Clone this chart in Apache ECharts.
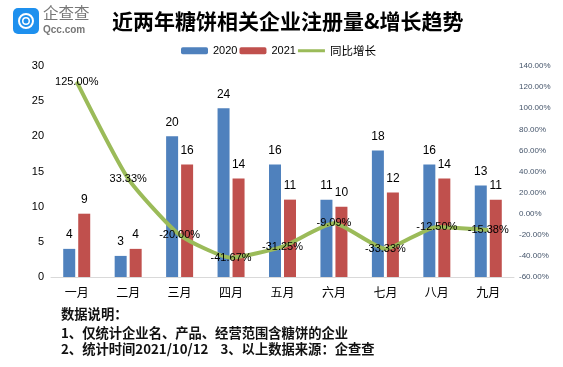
<!DOCTYPE html>
<html>
<head>
<meta charset="utf-8">
<style>
  html, body { margin: 0; padding: 0; background: #fff; }
  #chart { width: 563px; height: 367px; }
</style>
<script src="https://cdn.jsdelivr.net/npm/echarts@6/dist/echarts.min.js"></script>
</head>
<body>
<div id="chart"></div>
<script>
const months = ['一月', '二月', '三月', '四月', '五月', '六月', '七月', '八月', '九月']
const values2020 = [4, 3, 20, 24, 16, 11, 18, 16, 13]
const values2021 = [9, 4, 16, 14, 11, 10, 12, 14, 11]
const growth = [125, 33.33, -20, -41.67, -31.25, -9.09, -33.33, -12.5, -15.38]

const cjk = '"Noto Sans CJK SC", sans-serif'
const chart = echarts.init(document.getElementById('chart'))

function noteText(text, y) {
  return {
    type: 'text',
    left: 61,
    top: y,
    style: { text: text, font: 'bold 13.3px ' + cjk, fill: '#111' }
  }
}

chart.setOption({
  animation: false,
  title: {
    text: '近两年糖饼相关企业注册量&增长趋势',
    left: 107,
    top: 6,
    textStyle: { fontFamily: cjk, fontSize: 21, fontWeight: 'bold', color: '#000' }
  },
  legend: {
    top: 40,
    left: 176,
    itemGap: 2,
    itemWidth: 27,
    itemHeight: 7,
    textStyle: { fontFamily: cjk, fontSize: 11.5, color: '#000' },
    data: [
      { name: '2020', textStyle: { fontFamily: 'Liberation Sans', fontSize: 11 } },
      { name: '2021', textStyle: { fontFamily: 'Liberation Sans', fontSize: 11 } },
      { name: '同比增长', icon: 'path://M0 0H0V7H0Z M0 2H27V5H0Z' }
    ]
  },
  grid: { left: 51, right: 49, top: 66, bottom: 90 },
  xAxis: {
    type: 'category',
    data: months,
    axisTick: { show: false },
    axisLine: { lineStyle: { color: '#d9d9d9', width: 1 } },
    axisLabel: { fontFamily: cjk, fontSize: 12, color: '#000', margin: 9, interval: 0 }
  },
  yAxis: [{
    type: 'value',
    min: 0,
    max: 30,
    interval: 5,
    splitLine: { show: false },
    axisLine: { show: false },
    axisTick: { show: false },
    axisLabel: { fontFamily: 'Liberation Sans', fontSize: 11, color: '#000', margin: 7 }
  }, {
    type: 'value',
    min: -60,
    max: 140,
    interval: 20,
    splitLine: { show: false },
    axisLine: { show: false },
    axisTick: { show: false },
    axisLabel: {
      fontFamily: 'Liberation Sans',
      fontSize: 8,
      color: '#44546a',
      margin: 5,
      formatter: function(v) { return v.toFixed(2) + '%' }
    }
  }],
  series: [{
    name: '2020',
    type: 'bar',
    barWidth: 12,
    barGap: '25%',
    data: values2020,
    itemStyle: { color: '#4f81bd' },
    label: { show: true, position: 'top', distance: 8, fontFamily: 'Liberation Sans', fontSize: 12, color: '#000' }
  }, {
    name: '2021',
    type: 'bar',
    barWidth: 12,
    data: values2021,
    itemStyle: { color: '#c0504d' },
    label: { show: true, position: 'top', distance: 8, fontFamily: 'Liberation Sans', fontSize: 12, color: '#000' }
  }, {
    name: '同比增长',
    type: 'line',
    yAxisIndex: 1,
    smooth: 0.18,
    symbol: 'circle',
    symbolSize: 1,
    showSymbol: true,
    data: growth,
    lineStyle: { color: '#9bbb59', width: 4 },
    itemStyle: { color: '#9bbb59' },
    label: {
      show: true,
      position: 'inside',
      fontFamily: 'Liberation Sans',
      fontSize: 11,
      color: '#000',
      formatter: function(p) { return p.value.toFixed(2) + '%' }
    },
    labelLayout: { hideOverlap: false },
    z: 5
  }],
  graphic: [
    { type: 'rect', left: 13, top: 8, shape: { width: 26, height: 26, r: 5 }, style: { fill: '#1e90ee' } },
    { type: 'ring', left: 18, top: 13, shape: { r: 8, r0: 6 }, style: { fill: '#fff' } },
    { type: 'ring', left: 22, top: 17, shape: { r: 4, r0: 2.5 }, style: { fill: '#fff' } },
    { type: 'text', left: 43, top: 5, style: { text: '企查查', font: '15.5px ' + cjk, fill: '#777' } },
    { type: 'text', left: 43, top: 25, style: { text: 'Qcc.com', font: 'bold 10px "Liberation Sans"', fill: '#777' } },
    noteText('数据说明：', 307),
    noteText('1、仅统计企业名、产品、经营范围含糖饼的企业', 326),
    noteText('2、统计时间2021/10/12    3、以上数据来源：企查查', 342)
  ]
})
</script>
</body>
</html>
